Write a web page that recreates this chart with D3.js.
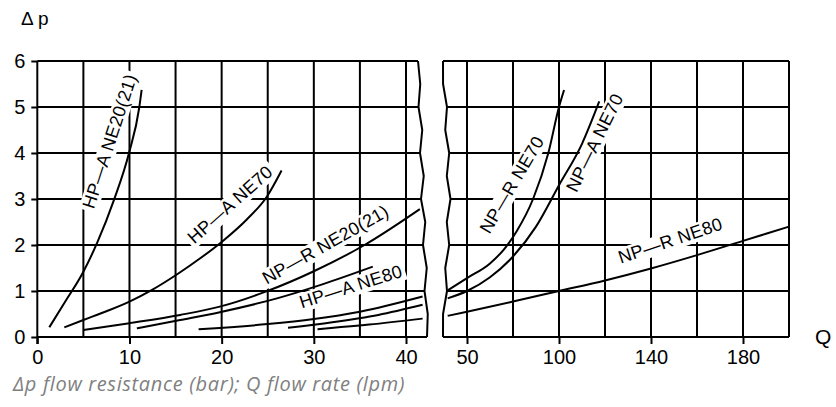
<!DOCTYPE html>
<html><head><meta charset="utf-8">
<script src="https://cdn.jsdelivr.net/npm/d3@7"></script>
<style>
body{margin:0;background:#fff;}
svg{display:block;}
</style></head>
<body>
<svg id="chart" width="836" height="407"></svg>
<script>
// ---------- data ----------
const leftTicks = [0, 10, 20, 30, 40];
const leftGrid = [5, 10, 15, 20, 25, 30, 35, 40];
const rightTicks = [50, 100, 140, 180];
const rightGrid = [50, 75, 100, 120, 140, 160, 180, 200];
const yTicks = [0, 1, 2, 3, 4, 5, 6];

// left panel curves (Q lpm, dp bar)
const hpaNE20_q  = [1.3, 3, 5, 6.5, 8.32, 9.95, 11.07, 11.32];
const hpaNE20_dp = [0.21, 0.76, 1.42, 2.05, 2.98, 4.0, 5.0, 5.37];
const hpaNE70_q  = [2.93, 5, 7.5, 10, 12.5, 15.3, 17.6, 20.2, 22.7, 24.9, 26.5];
const hpaNE70_dp = [0.21, 0.37, 0.56, 0.77, 1.03, 1.38, 1.7, 2.1, 2.55, 3.05, 3.62];
const nprNE20_q  = [5, 10, 15.5, 19.8, 24.7, 30, 35.5, 41.5];
const nprNE20_dp = [0.15, 0.3, 0.48, 0.66, 0.98, 1.43, 2.0, 2.78];
const hpaNE80_q  = [10.8, 15.5, 19.8, 26, 31, 36.4];
const hpaNE80_dp = [0.19, 0.37, 0.54, 0.84, 1.15, 1.53];
const lowA_q  = [17.5, 25, 30, 35, 41.8];
const lowA_dp = [0.17, 0.28, 0.39, 0.55, 0.88];
const lowB_q  = [27.2, 32, 37, 41.8];
const lowB_dp = [0.2, 0.32, 0.48, 0.7];
const lowC_q  = [30.4, 36, 41.8];
const lowC_dp = [0.17, 0.27, 0.4];

// right panel curves
const nprNE70_q  = [39.7, 50, 62.5, 70, 77, 85.9, 94.2, 100, 102.2];
const nprNE70_dp = [1.02, 1.28, 1.6, 1.9, 2.3, 3.0, 4.0, 5.0, 5.37];
const npaNE70_q  = [39.5, 50, 62.5, 75, 87.5, 100, 110, 117.5];
const npaNE70_dp = [0.84, 1.0, 1.3, 1.75, 2.4, 3.3, 4.2, 5.12];
const nprNE80_q  = [39.5, 50, 75, 100, 120, 140, 160, 180, 200];
const nprNE80_dp = [0.46, 0.55, 0.77, 1.0, 1.23, 1.49, 1.78, 2.09, 2.4];

// curve labels: text, panel, anchor Q, anchor dp, angle, baseline shift (em)
const labelText  = ["HP\u2014A NE20(21)", "HP\u2014A NE70", "NP\u2014R NE20(21)", "HP\u2014A NE80", "NP\u2014R NE70", "NP\u2014A NE70", "NP\u2014R NE80"];
const labelPanel = ["L", "L", "L", "L", "R", "R", "R"];
const labelQ     = [8.1, 21.1, 31.4, 34.1, 75.5, 116.5, 148.7];
const labelDp    = [4.238, 2.84, 1.96, 1.043, 3.283, 4.2, 2.043];
const labelAngle = [-72, -41.7, -29.4, -17.6, -59.5, -63.6, -18.7];

// ---------- scales ----------
const svg = d3.select("#chart");
const y = d3.scaleLinear().domain([0, 6]).range([337, 61]);
const xL = d3.scaleLinear().domain([0, 40]).range([37.3, 406]);
const xR = d3.scaleLinear().domain([50, 100, 200]).range([467, 559, 789]);

const ink = "#000";
const lw = 2;
const fontAx = "Liberation Sans, Arial, sans-serif";

// ---------- grid ----------
const g = svg.append("g");
leftGrid.forEach(v => g.append("line").attr("x1", xL(v)).attr("x2", xL(v)).attr("y1", y(0)).attr("y2", y(6)).attr("stroke", ink).attr("stroke-width", lw));
rightGrid.forEach(v => g.append("line").attr("x1", xR(v)).attr("x2", xR(v)).attr("y1", y(0)).attr("y2", y(6)).attr("stroke", ink).attr("stroke-width", lw));
yTicks.forEach(v => {
  g.append("line").attr("x1", xL(0)).attr("x2", 432).attr("y1", y(v)).attr("y2", y(v)).attr("stroke", ink).attr("stroke-width", lw);
  g.append("line").attr("x1", 438).attr("x2", xR(200)).attr("y1", y(v)).attr("y2", y(v)).attr("stroke", ink).attr("stroke-width", lw);
});

// ---------- labels (white box knocks out grid) ----------
labelText.forEach((t, i) => {
  const px = labelPanel[i] === "L" ? xL(labelQ[i]) : xR(labelQ[i]);
  const py = y(labelDp[i]);
  const lg = svg.append("g").attr("transform", `translate(${px},${py}) rotate(${labelAngle[i]})`);
  const bg = lg.append("rect").attr("fill", "#fff");
  const tx = lg.append("text")
    .attr("text-anchor", "middle").attr("dy", "0.2em")
    .attr("font-family", fontAx).attr("font-size", 18).attr("letter-spacing", 0.3)
    .attr("fill", ink).text(t);
  const bb = tx.node().getBBox();
  bg.attr("x", bb.x - 3).attr("y", bb.y + 1).attr("width", bb.width + 6).attr("height", bb.height - 1);
});

// ---------- curves ----------
function curve(qs, dps, xs) {
  const pts = qs.map((q, i) => [xs(q), y(dps[i])]);
  svg.append("path").attr("d", d3.line().curve(d3.curveMonotoneX)(pts))
    .attr("fill", "none").attr("stroke", ink).attr("stroke-width", lw);
}
curve(hpaNE20_q, hpaNE20_dp, xL);
curve(hpaNE70_q, hpaNE70_dp, xL);
curve(nprNE20_q, nprNE20_dp, xL);
curve(hpaNE80_q, hpaNE80_dp, xL);
curve(lowA_q, lowA_dp, xL);
curve(lowB_q, lowB_dp, xL);
curve(lowC_q, lowC_dp, xL);
curve(nprNE70_q, nprNE70_dp, xR);
curve(npaNE70_q, npaNE70_dp, xR);
curve(nprNE80_q, nprNE80_dp, xR);

// ---------- axis break ----------
const wig = [0, 1.5, -1, 2, -1, 2, -1.5, 2, -1, 2, -1, 1.5, 0];
const breakL = wig.map((w, i) => { const t = i / 12; return [418 + 9 * t + w, y(6 - 6 * t)]; });
const breakR = wig.map((w, i) => { const t = i / 12; return [443 + 6 * Math.sin(Math.PI * t) - w, y(6 - 6 * t)]; });
const gap = [[breakL[0][0], 55]].concat(breakL, [[breakL[12][0], 345], [breakR[12][0], 345]], breakR.slice().reverse(), [[breakR[0][0], 55]]);
svg.append("path").attr("d", d3.line()(gap) + "Z").attr("fill", "#fff").attr("stroke", "none");
svg.append("path").attr("d", d3.line()(breakL)).attr("fill", "none").attr("stroke", ink).attr("stroke-width", lw).attr("stroke-linejoin", "round");
svg.append("path").attr("d", d3.line()(breakR)).attr("fill", "none").attr("stroke", ink).attr("stroke-width", lw).attr("stroke-linejoin", "round");

// ---------- axes ----------
function styleAxis(sel) {
  sel.select(".domain").remove();
  sel.selectAll("line").attr("stroke", ink).attr("stroke-width", lw);
  sel.selectAll("text").attr("font-family", fontAx).attr("font-size", 20).attr("fill", ink);
}
svg.append("g").attr("transform", `translate(0,${y(0)})`)
  .call(d3.axisBottom(xL).tickValues(leftTicks).tickSize(7).tickPadding(6).tickFormat(d3.format("d"))).call(styleAxis);
svg.append("g").attr("transform", `translate(0,${y(0)})`)
  .call(d3.axisBottom(xR).tickValues(rightTicks).tickSize(7).tickPadding(6).tickFormat(d3.format("d"))).call(styleAxis);
svg.append("g").attr("transform", `translate(${xL(0)},0)`)
  .call(d3.axisLeft(y).tickValues(yTicks).tickSize(6).tickPadding(6).tickFormat(d3.format("d"))).call(styleAxis);
svg.append("line").attr("x1", xL(0)).attr("x2", xL(0)).attr("y1", y(6)).attr("y2", y(0) + 7).attr("stroke", ink).attr("stroke-width", lw);

// axis titles
svg.append("text").attr("x", 21).attr("y", 25).attr("font-family", fontAx).attr("font-size", 19).attr("fill", ink).text("\u0394 p");
svg.append("text").attr("x", 815).attr("y", 344).attr("font-family", fontAx).attr("font-size", 21).attr("fill", ink).text("Q");

// caption
svg.append("text").attr("x", 13).attr("y", 391).attr("font-family", "Open Sans, sans-serif").attr("font-style", "italic")
  .attr("font-size", 20).attr("letter-spacing", 0.65).attr("fill", "#808080").text("\u0394p flow resistance (bar); Q flow rate (lpm)");
</script>
</body></html>
